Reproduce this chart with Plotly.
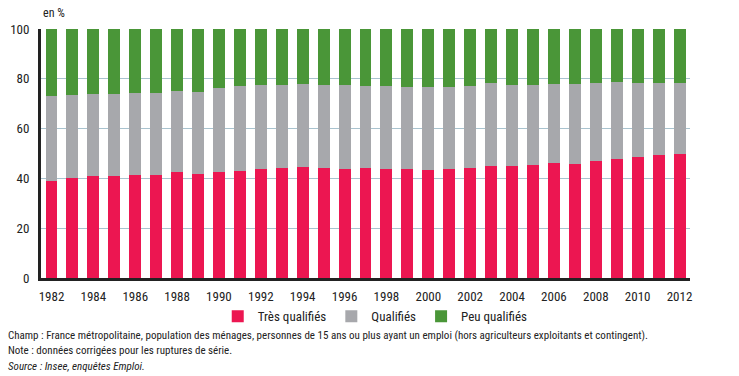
import plotly.graph_objects as go

years = [str(y) for y in range(1982, 2013)]
tres_qualifies = [39.0, 40.2, 41.0, 41.0, 41.5, 41.5, 42.6, 41.9, 42.6, 43.0, 43.8, 44.2, 44.6, 44.2, 43.8, 44.2,
                  43.8, 43.8, 43.4, 43.8, 44.2, 45.0, 45.0, 45.4, 46.2, 45.8, 47.0, 47.8, 48.6, 49.4, 49.8]
cumul_qualifies = [73.0, 73.4, 73.8, 73.8, 74.2, 74.2, 75.0, 74.6, 76.2, 77.3, 77.4, 77.4, 77.8, 77.4, 77.4, 77.0,
                   77.0, 76.6, 76.6, 76.6, 77.0, 78.2, 77.4, 77.4, 77.8, 77.8, 78.2, 78.6, 78.2, 78.2, 78.2]
qualifies = [round(c - t, 1) for c, t in zip(cumul_qualifies, tres_qualifies)]
peu_qualifies = [round(100 - c, 1) for c in cumul_qualifies]
tick_years = [str(y) for y in range(1982, 2013, 2)]
y_ticks = [0, 20, 40, 60, 80, 100]

FONT = "Liberation Sans Narrow, Arial Narrow, Roboto Condensed, Liberation Sans, sans-serif"

fig = go.Figure()
for name, vals, col in [("Très qualifiés", tres_qualifies, "#ec1651"),
                        ("Qualifiés", qualifies, "#a7a8ac"),
                        ("Peu qualifiés", peu_qualifies, "#4a9638")]:
    fig.add_trace(go.Bar(x=years, y=vals, name=name, marker=dict(color=col, line=dict(width=0)),
                         hoverinfo="skip"))

fig.update_layout(
    barmode="stack",
    bargap=0.43,
    width=739, height=376,
    margin=dict(l=41, r=49, t=29, b=98, autoexpand=False),
    paper_bgcolor="white", plot_bgcolor="white",
    font=dict(family=FONT, size=12, color="#222222"),
    legend=dict(orientation="h", x=0.515, xanchor="center", y=-0.154, yanchor="middle",
                traceorder="normal",
                font=dict(size=13, family=FONT), itemwidth=30, tracegroupgap=0,
                itemclick=False, itemsizing="constant"),
    xaxis=dict(type="category", range=[-0.5, 30.5], tickvals=tick_years, ticktext=tick_years,
               showline=True, linecolor="#222222", linewidth=2.5, ticks="", showgrid=False,
               tickfont=dict(size=13, family=FONT), fixedrange=True, ticklabelstandoff=5),
    yaxis=dict(range=[0, 100], tickvals=y_ticks, showline=True, linecolor="#222222", linewidth=3,
               ticks="", showgrid=True, gridcolor="#a9c3cf", gridwidth=1,
               tickfont=dict(size=13, family=FONT), zeroline=False, fixedrange=True,
               ticklabelstandoff=6),
    showlegend=True,
)

fig.add_annotation(text="en %", xref="paper", yref="paper", x=0.0, y=1.0, yshift=16,
                   xanchor="left", yanchor="middle", showarrow=False,
                   font=dict(size=12, family=FONT, color="#222222"))

notes = [
    "Champ : France métropolitaine, population des ménages, personnes de 15 ans ou plus ayant un emploi (hors agriculteurs exploitants et contingent).",
    "Note : données corrigées pour les ruptures de série.",
    "<i>Source : Insee, enquêtes Emploi.</i>",
]
for i, t in enumerate(notes):
    fig.add_annotation(text=t, xref="paper", yref="paper", x=-0.054, y=0, yshift=-57 - 15.5 * i,
                       xanchor="left", yanchor="middle", showarrow=False, align="left",
                       font=dict(size=11, family=FONT, color="#222222"))

fig.write_html("out.html", config={"displayModeBar": False},
               post_script="document.body.style.margin='0';document.body.style.padding='0';")
